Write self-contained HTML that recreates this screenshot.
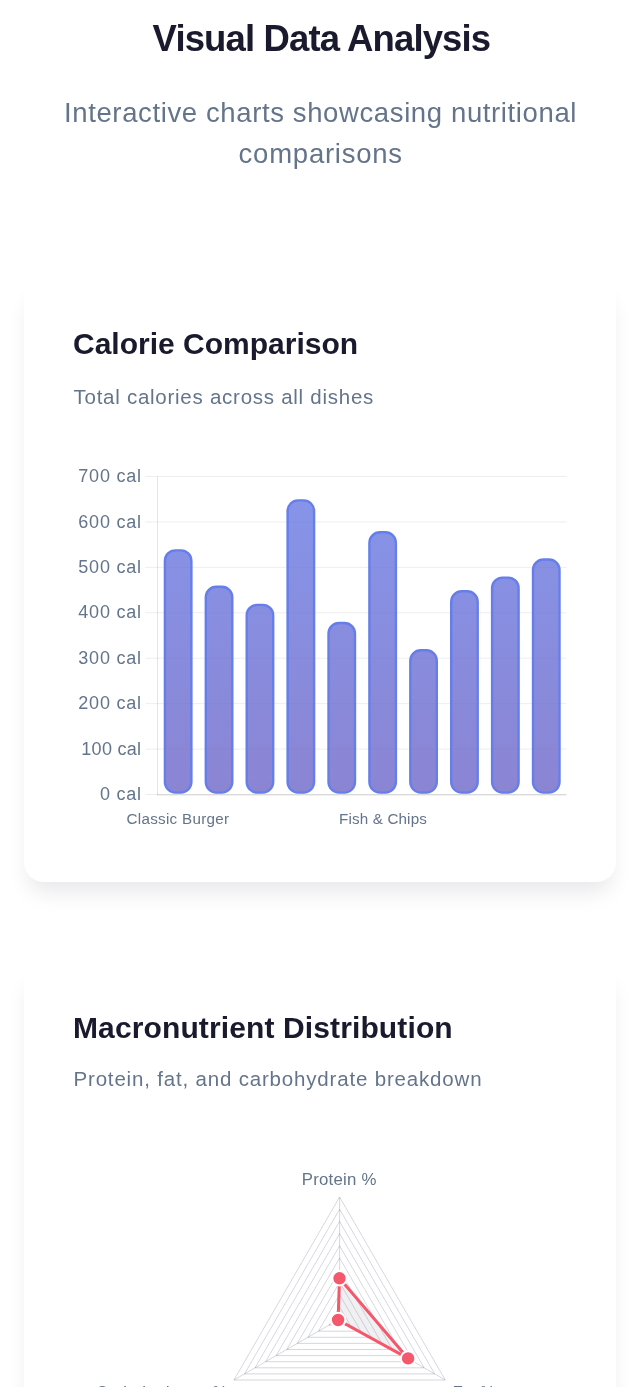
<!DOCTYPE html>
<html lang="en">
<head>
<meta charset="utf-8">
<title>Visual Data Analysis</title>
<style>
  html, body { margin: 0; padding: 0; }
  body {
    width: 640px; height: 1387px; overflow: hidden; position: relative;
    background: #ffffff;
    font-family: "Liberation Sans", sans-serif;
  }
  .abs { position: absolute; white-space: nowrap; line-height: 1; }
  .title { left: 152.6px; top: 21px; font-size: 36.5px; font-weight: 700; color: #1a1a2e; letter-spacing: -0.87px; }
  .sub { font-size: 27.5px; color: #64748b; letter-spacing: 0.62px; }
  .card {
    position: absolute; left: 24px; width: 592px; background: #fff;
    border-radius: 20px;
    box-shadow: 0 15px 22px -5px rgba(10, 10, 30, 0.095);
  }
  .h3 { left: 73px; font-size: 30px; font-weight: 700; color: #1a1a2e; }
  .p { left: 73.5px; font-size: 20.5px; color: #64748b; letter-spacing: 0.74px; }
  svg { position: absolute; left: 0; top: 0; }
  svg text { font-family: "Liberation Sans", sans-serif; fill: #64748b; }
</style>
</head>
<body>
<div id="wrap" style="position:absolute;left:0;top:0;width:640px;height:1387px;overflow:hidden;will-change:transform;">

<div class="abs title" id="t1">Visual Data Analysis</div>
<div class="abs sub" id="s1" style="left:64px; top:98.6px;">Interactive charts showcasing nutritional</div>
<div class="abs sub" id="s2" style="left:238.6px; top:140px; letter-spacing:0.76px;">comparisons</div>

<div class="card" style="top:279px; height:603.3px;"></div>
<div class="card" style="top:962px; height:603px;"></div>

<div class="abs h3" id="h1" style="top:329px;">Calorie Comparison</div>
<div class="abs p" id="p1" style="top:387px;">Total calories across all dishes</div>

<div class="abs h3" id="h2" style="top:1012.5px; letter-spacing:0.12px;">Macronutrient Distribution</div>
<div class="abs p" id="p2" style="top:1069px; letter-spacing:0.82px;">Protein, fat, and carbohydrate breakdown</div>

<svg id="chart" width="640" height="1387" viewBox="0 0 640 1387">
  <defs>
    <linearGradient id="bg" gradientUnits="userSpaceOnUse" x1="0" y1="425" x2="0" y2="1205">
      <stop offset="0" stop-color="#667eea"/>
      <stop offset="1" stop-color="#764ba2"/>
    </linearGradient>
  </defs>
  <g id="bar">
    <line x1="145.5" y1="794.50" x2="566.5" y2="794.50" stroke="rgba(0,0,0,0.07)" stroke-width="1"/>
    <line x1="145.5" y1="749.07" x2="566.5" y2="749.07" stroke="rgba(0,0,0,0.07)" stroke-width="1"/>
    <line x1="145.5" y1="703.64" x2="566.5" y2="703.64" stroke="rgba(0,0,0,0.07)" stroke-width="1"/>
    <line x1="145.5" y1="658.21" x2="566.5" y2="658.21" stroke="rgba(0,0,0,0.07)" stroke-width="1"/>
    <line x1="145.5" y1="612.78" x2="566.5" y2="612.78" stroke="rgba(0,0,0,0.07)" stroke-width="1"/>
    <line x1="145.5" y1="567.35" x2="566.5" y2="567.35" stroke="rgba(0,0,0,0.07)" stroke-width="1"/>
    <line x1="145.5" y1="521.92" x2="566.5" y2="521.92" stroke="rgba(0,0,0,0.07)" stroke-width="1"/>
    <line x1="145.5" y1="476.49" x2="566.5" y2="476.49" stroke="rgba(0,0,0,0.07)" stroke-width="1"/>
    <line x1="157.5" y1="476.49" x2="157.5" y2="795.00" stroke="rgba(0,0,0,0.1)" stroke-width="1"/>
    <line x1="157.0" y1="794.90" x2="566.5" y2="794.90" stroke="rgba(0,0,0,0.11)" stroke-width="1.4"/>
    <rect x="164.90" y="550.38" width="26.50" height="242.22" rx="10.5" ry="10.5" fill="url(#bg)" fill-opacity="0.8" stroke="#667eea" stroke-width="2.4"/>
    <rect x="205.80" y="586.72" width="26.50" height="205.88" rx="10.5" ry="10.5" fill="url(#bg)" fill-opacity="0.8" stroke="#667eea" stroke-width="2.4"/>
    <rect x="246.70" y="604.89" width="26.50" height="187.71" rx="10.5" ry="10.5" fill="url(#bg)" fill-opacity="0.8" stroke="#667eea" stroke-width="2.4"/>
    <rect x="287.60" y="500.40" width="26.50" height="292.19" rx="10.5" ry="10.5" fill="url(#bg)" fill-opacity="0.8" stroke="#667eea" stroke-width="2.4"/>
    <rect x="328.50" y="623.07" width="26.50" height="169.53" rx="10.5" ry="10.5" fill="url(#bg)" fill-opacity="0.8" stroke="#667eea" stroke-width="2.4"/>
    <rect x="369.40" y="532.21" width="26.50" height="260.39" rx="10.5" ry="10.5" fill="url(#bg)" fill-opacity="0.8" stroke="#667eea" stroke-width="2.4"/>
    <rect x="410.30" y="650.32" width="26.50" height="142.28" rx="10.5" ry="10.5" fill="url(#bg)" fill-opacity="0.8" stroke="#667eea" stroke-width="2.4"/>
    <rect x="451.20" y="591.27" width="26.50" height="201.33" rx="10.5" ry="10.5" fill="url(#bg)" fill-opacity="0.8" stroke="#667eea" stroke-width="2.4"/>
    <rect x="492.10" y="577.64" width="26.50" height="214.96" rx="10.5" ry="10.5" fill="url(#bg)" fill-opacity="0.8" stroke="#667eea" stroke-width="2.4"/>
    <rect x="533.00" y="559.46" width="26.50" height="233.14" rx="10.5" ry="10.5" fill="url(#bg)" fill-opacity="0.8" stroke="#667eea" stroke-width="2.4"/>
    <text x="141.85" y="800.20" text-anchor="end" font-size="18" letter-spacing="0.78" class="yl">0 cal</text>
    <text x="141.35" y="754.77" text-anchor="end" font-size="18" letter-spacing="0.28" class="yl">100 cal</text>
    <text x="141.85" y="709.34" text-anchor="end" font-size="18" letter-spacing="0.78" class="yl">200 cal</text>
    <text x="141.85" y="663.91" text-anchor="end" font-size="18" letter-spacing="0.78" class="yl">300 cal</text>
    <text x="141.85" y="618.48" text-anchor="end" font-size="18" letter-spacing="0.78" class="yl">400 cal</text>
    <text x="141.85" y="573.05" text-anchor="end" font-size="18" letter-spacing="0.78" class="yl">500 cal</text>
    <text x="141.85" y="527.62" text-anchor="end" font-size="18" letter-spacing="0.78" class="yl">600 cal</text>
    <text x="141.85" y="482.19" text-anchor="end" font-size="18" letter-spacing="0.78" class="yl">700 cal</text>
    <text x="177.95" y="823.7" text-anchor="middle" font-size="15.2" letter-spacing="0.3" class="xl">Classic Burger</text>
    <text x="383.05" y="823.7" text-anchor="middle" font-size="15.2" letter-spacing="0.15" class="xl">Fish &amp; Chips</text>
  </g>
  <g id="radar">
    <polygon points="339.60,1306.80 350.17,1325.10 329.03,1325.10" fill="none" stroke="rgba(115,122,138,0.29)" stroke-width="1"/>
    <polygon points="339.60,1294.60 360.73,1331.20 318.47,1331.20" fill="none" stroke="rgba(115,122,138,0.29)" stroke-width="1"/>
    <polygon points="339.60,1282.40 371.30,1337.30 307.90,1337.30" fill="none" stroke="rgba(115,122,138,0.29)" stroke-width="1"/>
    <polygon points="339.60,1270.20 381.86,1343.40 297.34,1343.40" fill="none" stroke="rgba(115,122,138,0.29)" stroke-width="1"/>
    <polygon points="339.60,1258.00 392.43,1349.50 286.77,1349.50" fill="none" stroke="rgba(115,122,138,0.29)" stroke-width="1"/>
    <polygon points="339.60,1245.80 402.99,1355.60 276.21,1355.60" fill="none" stroke="rgba(115,122,138,0.29)" stroke-width="1"/>
    <polygon points="339.60,1233.60 413.56,1361.70 265.64,1361.70" fill="none" stroke="rgba(115,122,138,0.29)" stroke-width="1"/>
    <polygon points="339.60,1221.40 424.12,1367.80 255.08,1367.80" fill="none" stroke="rgba(115,122,138,0.29)" stroke-width="1"/>
    <polygon points="339.60,1209.20 434.69,1373.90 244.51,1373.90" fill="none" stroke="rgba(115,122,138,0.29)" stroke-width="1"/>
    <polygon points="339.60,1197.00 445.26,1380.00 233.94,1380.00" fill="none" stroke="rgba(115,122,138,0.29)" stroke-width="1"/>
    <line x1="339.6" y1="1319.0" x2="339.60" y2="1197.00" stroke="rgba(115,122,138,0.29)" stroke-width="1"/>
    <line x1="339.6" y1="1319.0" x2="445.26" y2="1380.00" stroke="rgba(115,122,138,0.29)" stroke-width="1"/>
    <line x1="339.6" y1="1319.0" x2="233.94" y2="1380.00" stroke="rgba(115,122,138,0.29)" stroke-width="1"/>
    <polygon points="339.50,1278.30 408.10,1358.40 338.10,1320.00" fill="#9d98ad" fill-opacity="0.15" stroke="#f5576c" stroke-width="3" stroke-linejoin="round"/>
    <circle cx="339.5" cy="1278.3" r="7.2" fill="#f5576c" stroke="#ffffff" stroke-width="2"/>
    <circle cx="408.1" cy="1358.4" r="7.2" fill="#f5576c" stroke="#ffffff" stroke-width="2"/>
    <circle cx="338.1" cy="1320.0" r="7.2" fill="#f5576c" stroke="#ffffff" stroke-width="2"/>
    <text x="339.2" y="1185.2" text-anchor="middle" font-size="16.8" letter-spacing="0.22" class="rl">Protein %</text>
    <text x="227.5" y="1397.8" text-anchor="end" font-size="16.8" letter-spacing="0.14" class="rl">Carbohydrates %</text>
    <text x="452.5" y="1397.8" text-anchor="start" font-size="16.8" letter-spacing="-0.3" class="rl">Fat %</text>
  </g>
</svg>

</div>
</body>
</html>
